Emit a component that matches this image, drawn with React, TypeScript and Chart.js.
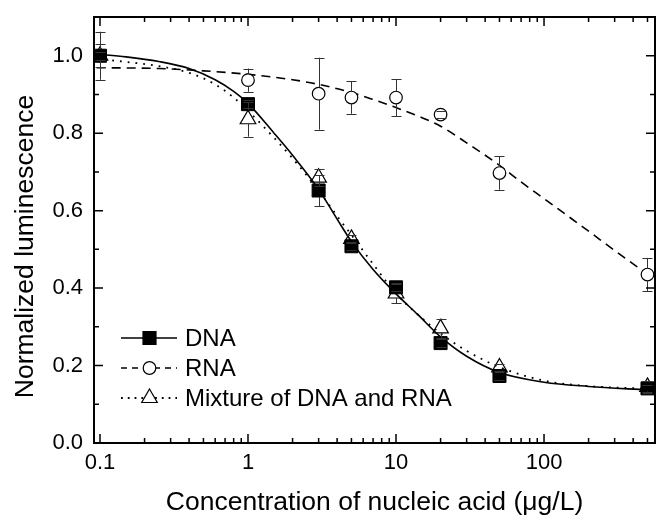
import React, { useEffect, useRef } from 'react';
import { Chart, registerables } from 'chart.js';

Chart.register(...registerables);

// ---- data ----
const concentrations = [0.1, 1, 3, 5, 10, 20, 50, 500];
const dnaValues = [1.0, 0.875, 0.652, 0.508, 0.402, 0.258, 0.173, 0.141];
const dnaErrors = [0.01, 0.01, 0.04, 0.01, 0.01, 0.01, 0.01, 0.01];
const rnaValues = [1.0, 0.937, 0.902, 0.892, 0.892, 0.848, 0.697, 0.435];
const rnaErrors = [0.062, 0.03, 0.093, 0.042, 0.048, 0.01, 0.043, 0.043];
const mixValues = [1.0, 0.836, 0.685, 0.527, 0.386, 0.296, 0.195, 0.145];
const mixErrors = [0.03, 0.045, 0.022, 0.01, 0.025, 0.025, 0.01, 0.015];

// fitted curves
const fitX = [0.095, 0.15, 0.25, 0.4, 0.6, 0.8, 1, 1.5, 2, 3, 4, 5, 7, 10, 14, 20, 30, 50, 100, 200, 500];
const dnaFit = [1.004, 0.997, 0.985, 0.967, 0.938, 0.908, 0.877, 0.8, 0.743, 0.655, 0.578, 0.52, 0.448, 0.385, 0.332, 0.274, 0.224, 0.182, 0.157, 0.146, 0.137];
const mixFit = [0.992, 0.984, 0.973, 0.956, 0.926, 0.892, 0.858, 0.788, 0.735, 0.652, 0.586, 0.537, 0.462, 0.386, 0.332, 0.283, 0.238, 0.196, 0.161, 0.147, 0.14];
const rnaFitX = [0.095, 0.25, 0.5, 1, 2, 3, 5, 7, 10, 15, 20, 30, 50, 70, 100, 150, 200, 300, 500];
const rnaFit = [0.969, 0.967, 0.961, 0.952, 0.938, 0.926, 0.905, 0.887, 0.866, 0.84, 0.818, 0.775, 0.717, 0.674, 0.631, 0.582, 0.547, 0.497, 0.436];

const xTickValues = [0.1, 1, 10, 100];
const yTickValues = [0, 0.2, 0.4, 0.6, 0.8, 1.0];
const legendLabels = ['DNA', 'RNA', 'Mixture of DNA and RNA'];
const xTitle = 'Concentration of nucleic acid (\u03BCg/L)';
const yTitle = 'Normalized luminescence';

const FONT = "'Liberation Sans', Arial, Helvetica, sans-serif";

const pts = (xs: number[], ys: number[]) => xs.map((x, i) => ({ x, y: ys[i] }));

function drawMarker(ctx: CanvasRenderingContext2D, style: string, x: number, y: number) {
  ctx.save();
  ctx.strokeStyle = '#000';
  ctx.lineWidth = 1.2;
  ctx.setLineDash([]);
  ctx.beginPath();
  if (style === 'rect') {
    ctx.fillStyle = '#000';
    ctx.rect(x - 6.5, y - 6.5, 13, 13);
    ctx.fill();
    ctx.stroke();
  } else if (style === 'circle') {
    ctx.fillStyle = '#fff';
    ctx.arc(x, y, 6.3, 0, Math.PI * 2);
    ctx.fill();
    ctx.stroke();
  } else {
    const r = 9;
    ctx.moveTo(x, y - r);
    ctx.lineTo(x + r * Math.sin((2 * Math.PI) / 3), y + r / 2);
    ctx.lineTo(x - r * Math.sin((2 * Math.PI) / 3), y + r / 2);
    ctx.closePath();
    ctx.fillStyle = '#fff';
    ctx.fill();
    ctx.stroke();
  }
  ctx.restore();
}

const decorPlugin = {
  id: 'decor',
  afterDatasetsDraw(chart: any) {
    const { ctx, chartArea, scales } = chart;
    const xs = scales.x;
    const ys = scales.y;
    // error bars
    const series = [
      { v: rnaValues, e: rnaErrors, gt: 6.3, gb: 6.3 },
      { v: dnaValues, e: dnaErrors, gt: 6.5, gb: 6.5 },
      { v: mixValues, e: mixErrors, gt: 9, gb: 4.5 },
    ];
    ctx.save();
    ctx.strokeStyle = '#333';
    ctx.lineWidth = 1;
    series.forEach((s) => {
      concentrations.forEach((c, i) => {
        const px = Math.round(xs.getPixelForValue(c)) + 0.5;
        const py = ys.getPixelForValue(s.v[i]);
        const top = ys.getPixelForValue(s.v[i] + s.e[i]);
        const bot = ys.getPixelForValue(s.v[i] - s.e[i]);
        ctx.beginPath();
        if (top < py - s.gt) {
          ctx.moveTo(px, top);
          ctx.lineTo(px, py - s.gt);
        }
        if (bot > py + s.gb) {
          ctx.moveTo(px, py + s.gb);
          ctx.lineTo(px, bot);
        }
        ctx.moveTo(px - 5, Math.round(top) + 0.5);
        ctx.lineTo(px + 5, Math.round(top) + 0.5);
        ctx.moveTo(px - 5, Math.round(bot) + 0.5);
        ctx.lineTo(px + 5, Math.round(bot) + 0.5);
        ctx.stroke();
      });
    });
    ctx.restore();

    // frame
    const { left, right, top, bottom } = chartArea;
    ctx.save();
    ctx.strokeStyle = '#000';
    ctx.lineWidth = 2;
    ctx.strokeRect(left, top, right - left, bottom - top);
    ctx.lineWidth = 1.5;
    ctx.beginPath();
    // x ticks (log)
    for (let e = -2; e <= 3; e++) {
      for (let m = 1; m <= 9; m++) {
        const v = m * Math.pow(10, e);
        const px = xs.getPixelForValue(v);
        if (px < left + 1 || px > right - 1) continue;
        const len = m === 1 ? 9 : 5;
        ctx.moveTo(px, bottom);
        ctx.lineTo(px, bottom - len);
        ctx.moveTo(px, top);
        ctx.lineTo(px, top + len);
      }
    }
    // y ticks
    for (let k = 1; k <= 10; k++) {
      const v = k / 10;
      const py = ys.getPixelForValue(v);
      const len = k % 2 === 0 ? 9 : 5;
      ctx.moveTo(left, py);
      ctx.lineTo(left + len, py);
      ctx.moveTo(right, py);
      ctx.lineTo(right - len, py);
    }
    ctx.stroke();
    ctx.restore();
  },
  afterDraw(chart: any) {
    const { ctx } = chart;
    // y axis title
    ctx.save();
    ctx.fillStyle = '#000';
    ctx.font = `26.5px ${FONT}`;
    ctx.textAlign = 'center';
    ctx.textBaseline = 'middle';
    ctx.translate(25.5, 246.5);
    ctx.rotate(-Math.PI / 2);
    ctx.fillText(yTitle, 0, 0);
    ctx.restore();

    // legend
    const rows = [
      { y: 338, dash: [] as number[], style: 'rect' },
      { y: 368, dash: [6, 5], style: 'circle' },
      { y: 398, dash: [1.8, 5], style: 'triangle' },
    ];
    rows.forEach((r, i) => {
      ctx.save();
      ctx.strokeStyle = '#000';
      ctx.lineWidth = i === 2 ? 1.8 : 1.5;
      ctx.setLineDash(r.dash);
      ctx.beginPath();
      ctx.moveTo(121, r.y);
      ctx.lineTo(177, r.y);
      ctx.stroke();
      ctx.restore();
      drawMarker(ctx, r.style, 149.5, r.y);
      ctx.save();
      ctx.fillStyle = '#000';
      ctx.font = `24px ${FONT}`;
      ctx.textAlign = 'left';
      ctx.textBaseline = 'middle';
      ctx.fillText(legendLabels[i], 185, r.y + 1);
      ctx.restore();
    });
  },
};

export default function App() {
  const canvasRef = useRef<HTMLCanvasElement | null>(null);

  useEffect(() => {
    if (!canvasRef.current) return;
    const chart = new Chart(canvasRef.current, {
      type: 'scatter',
      data: {
        datasets: [
          {
            label: 'Mixture of DNA and RNA',
            data: pts(concentrations, mixValues),
            pointStyle: 'triangle',
            pointRadius: 9,
            pointBackgroundColor: 'rgba(255,255,255,0)',
            pointBorderColor: '#000',
            pointBorderWidth: 1.2,
            showLine: false,
            order: 0,
          },
          {
            label: 'DNA',
            data: pts(concentrations, dnaValues),
            pointStyle: 'rect',
            pointRadius: 9.2,
            pointBackgroundColor: '#000',
            pointBorderColor: '#000',
            pointBorderWidth: 1,
            showLine: false,
            order: 1,
          },
          {
            label: 'RNA',
            data: pts(concentrations, rnaValues),
            pointStyle: 'circle',
            pointRadius: 6.3,
            pointBackgroundColor: '#fff',
            pointBorderColor: '#000',
            pointBorderWidth: 1.2,
            showLine: false,
            order: 2,
          },
          {
            label: 'DNA fit',
            data: pts(fitX, dnaFit),
            showLine: true,
            borderColor: '#000',
            borderWidth: 1.6,
            pointRadius: 0,
            cubicInterpolationMode: 'monotone',
            order: 3,
          },
          {
            label: 'RNA fit',
            data: pts(rnaFitX, rnaFit),
            showLine: true,
            borderColor: '#000',
            borderWidth: 1.6,
            borderDash: [9, 6],
            pointRadius: 0,
            cubicInterpolationMode: 'monotone',
            order: 4,
          },
          {
            label: 'Mixture fit',
            data: pts(fitX, mixFit),
            showLine: true,
            borderColor: '#000',
            borderWidth: 1.8,
            borderDash: [1.8, 6],
            pointRadius: 0,
            cubicInterpolationMode: 'monotone',
            order: 5,
          },
        ] as any,
      },
      options: {
        animation: false,
        responsive: false,
        layout: { autoPadding: false, padding: { top: 17, right: 2, left: 0, bottom: 0 } },
        plugins: {
          legend: { display: false },
          tooltip: { enabled: false },
        },
        scales: {
          x: {
            type: 'logarithmic',
            min: 0.0911,
            max: 562,
            grid: { display: false, drawTicks: false },
            border: { display: false },
            afterBuildTicks: (scale: any) => {
              scale.ticks = xTickValues.map((v) => ({ value: v }));
            },
            afterFit: (scale: any) => {
              scale.height = 80;
              scale.paddingLeft = 0;
              scale.paddingRight = 0;
            },
            ticks: {
              autoSkip: false,
              maxRotation: 0,
              padding: 7,
              color: '#000',
              font: { family: FONT, size: 22 },
              callback: (v: any) => String(v),
            },
            title: {
              display: true,
              text: xTitle,
              color: '#000',
              font: { family: FONT, size: 26.5 },
              padding: { top: 0, bottom: 4 },
            },
          },
          y: {
            type: 'linear',
            min: 0,
            max: 1.1,
            grid: { display: false, drawTicks: false },
            border: { display: false },
            afterBuildTicks: (scale: any) => {
              scale.ticks = yTickValues.map((v) => ({ value: v }));
            },
            afterFit: (scale: any) => {
              scale.width = 94;
              scale.paddingTop = 0;
              scale.paddingBottom = 0;
            },
            ticks: {
              padding: 11,
              color: '#000',
              font: { family: FONT, size: 22 },
              callback: (v: any) => Number(v).toFixed(1),
            },
          },
        },
      } as any,
      plugins: [decorPlugin],
    });
    return () => chart.destroy();
  }, []);

  return (
    <div style={{ position: 'absolute', left: 0, top: 0, width: 657, height: 523, background: '#fff' }}>
      <canvas ref={canvasRef} width={657} height={523} />
    </div>
  );
}
